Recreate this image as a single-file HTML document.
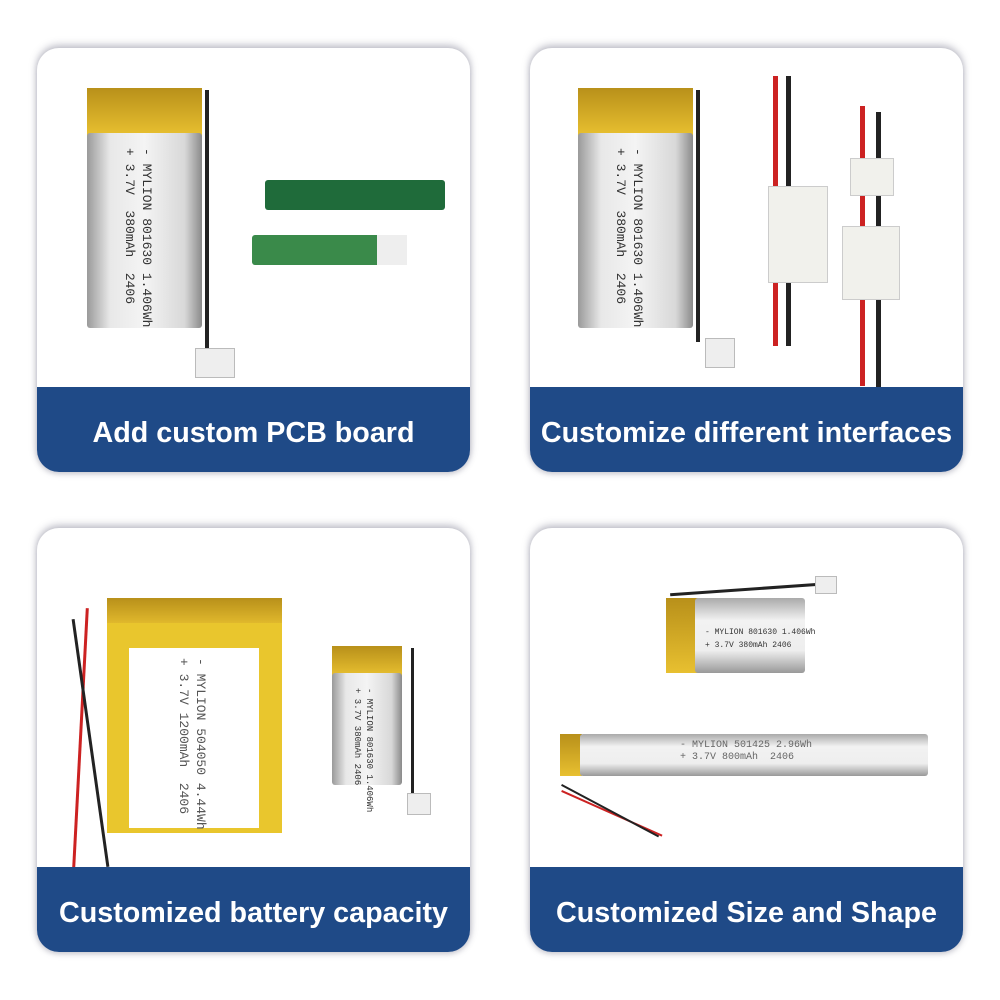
<!DOCTYPE html>
<html><head><style>
body{margin:0;width:1000px;height:1000px;background:#fff;position:relative;font-family:"Liberation Sans",sans-serif;overflow:hidden}
.card{position:absolute;width:433px;height:424px;border-radius:22px;background:#fff;box-shadow:0 -3px 8px rgba(120,120,140,.45),0 2px 6px rgba(120,120,140,.35);overflow:hidden}
.band{position:absolute;left:0;right:0;bottom:0;height:85px;background:#1f4a87;color:#fff;font-weight:bold;font-size:28.7px;text-align:center;line-height:92px;white-space:nowrap}
.bat{position:absolute;background:linear-gradient(90deg,#9a9a9a,#e8e8e8 20%,#f4f4f4 50%,#d8d8d8 85%,#8a8a8a);border-radius:3px}
.top{position:absolute;background:linear-gradient(#b8901a,#e8c030);}
.lbl{position:absolute;font-family:"Liberation Mono",monospace;color:#333;white-space:nowrap;transform-origin:0 0}
.wire{position:absolute;}
</style></head><body>

<div class="card" style="left:37px;top:48px">
 <div class="top" style="left:50px;top:40px;width:115px;height:48px"></div>
 <div class="bat" style="left:50px;top:85px;width:115px;height:195px"></div>
 <div class="lbl" style="left:118px;top:100px;transform:rotate(90deg);font-size:13px;line-height:17px">- MYLION 801630 1.406Wh<br>+ 3.7V &nbsp;380mAh &nbsp;2406</div>
 <div class="wire" style="left:168px;top:42px;width:4px;height:262px;background:#222"></div>
 <div style="position:absolute;left:158px;top:300px;width:38px;height:28px;background:#eee;border:1px solid #bbb"></div>
 <div style="position:absolute;left:228px;top:132px;width:180px;height:30px;background:#1f6b3a;border-radius:3px"></div>
 <div style="position:absolute;left:215px;top:187px;width:155px;height:30px;background:#3a8a4a;border-radius:3px"></div>
 <div style="position:absolute;left:340px;top:187px;width:30px;height:30px;background:#eee"></div>
 <div class="band">Add custom PCB board</div>
</div>

<div class="card" style="left:530px;top:48px">
 <div class="top" style="left:48px;top:40px;width:115px;height:48px"></div>
 <div class="bat" style="left:48px;top:85px;width:115px;height:195px"></div>
 <div class="lbl" style="left:116px;top:100px;transform:rotate(90deg);font-size:13px;line-height:17px">- MYLION 801630 1.406Wh<br>+ 3.7V &nbsp;380mAh &nbsp;2406</div>
 <div class="wire" style="left:166px;top:42px;width:4px;height:252px;background:#222"></div>
 <div style="position:absolute;left:175px;top:290px;width:28px;height:28px;background:#eee;border:1px solid #bbb"></div>
 <div class="wire" style="left:243px;top:28px;width:5px;height:270px;background:#c22"></div>
 <div class="wire" style="left:256px;top:28px;width:5px;height:270px;background:#222"></div>
 <div style="position:absolute;left:238px;top:138px;width:58px;height:95px;background:#f1f1ec;border:1px solid #ccc"></div>
 <div class="wire" style="left:330px;top:58px;width:5px;height:280px;background:#c22"></div>
 <div class="wire" style="left:346px;top:64px;width:5px;height:280px;background:#222"></div>
 <div style="position:absolute;left:320px;top:110px;width:42px;height:36px;background:#f1f1ec;border:1px solid #ccc"></div>
 <div style="position:absolute;left:312px;top:178px;width:56px;height:72px;background:#f1f1ec;border:1px solid #ccc"></div>
 <div class="band">Customize different interfaces</div>
</div>

<div class="card" style="left:37px;top:528px">
 <div class="top" style="left:70px;top:70px;width:175px;height:30px"></div>
 <div style="position:absolute;left:70px;top:95px;width:175px;height:210px;background:#e9c62d"></div>
 <div style="position:absolute;left:92px;top:120px;width:130px;height:180px;background:#fff"></div>
 <div class="lbl" style="left:172px;top:130px;transform:rotate(90deg);font-size:13px;line-height:17px;color:#555">- MYLION 504050 4.44Wh<br>+ 3.7V 1200mAh &nbsp;2406</div>
 <div class="wire" style="left:42px;top:80px;width:3px;height:260px;background:#c22;transform:rotate(3deg)"></div>
 <div class="wire" style="left:52px;top:90px;width:3px;height:250px;background:#222;transform:rotate(-8deg)"></div>
 <div class="top" style="left:295px;top:118px;width:70px;height:30px"></div>
 <div class="bat" style="left:295px;top:145px;width:70px;height:112px"></div>
 <div class="lbl" style="left:338px;top:160px;transform:rotate(90deg);font-size:9px;line-height:12px">- MYLION 801630 1.406Wh<br>+ 3.7V 380mAh 2406</div>
 <div class="wire" style="left:374px;top:120px;width:3px;height:150px;background:#222"></div>
 <div style="position:absolute;left:370px;top:265px;width:22px;height:20px;background:#eee;border:1px solid #bbb"></div>
 <div class="band">Customized battery capacity</div>
</div>

<div class="card" style="left:530px;top:528px">
 <div class="top" style="left:136px;top:70px;width:32px;height:75px"></div>
 <div class="bat" style="left:165px;top:70px;width:110px;height:75px;background:linear-gradient(#aaa,#f2f2f2 30%,#eee 70%,#999)"></div>
 <div class="lbl" style="left:175px;top:98px;font-size:8px;line-height:13px">- MYLION 801630 1.406Wh<br>+ 3.7V 380mAh 2406</div>
 <div class="wire" style="left:140px;top:60px;width:150px;height:3px;background:#222;transform:rotate(-4deg)"></div>
 <div style="position:absolute;left:285px;top:48px;width:20px;height:16px;background:#eee;border:1px solid #bbb"></div>
 <div class="top" style="left:30px;top:206px;width:22px;height:42px"></div>
 <div class="bat" style="left:50px;top:206px;width:348px;height:42px;background:linear-gradient(#aaa,#f2f2f2 30%,#eee 70%,#999)"></div>
 <div class="lbl" style="left:150px;top:212px;font-size:10px;line-height:12px;color:#666">- MYLION 501425 2.96Wh<br>+ 3.7V 800mAh &nbsp;2406</div>
 <div class="wire" style="left:32px;top:262px;width:110px;height:2px;background:#c22;transform:rotate(24deg);transform-origin:0 0"></div>
 <div class="wire" style="left:32px;top:256px;width:110px;height:2px;background:#222;transform:rotate(28deg);transform-origin:0 0"></div>
 <div class="band">Customized Size and Shape</div>
</div>

</body></html>
